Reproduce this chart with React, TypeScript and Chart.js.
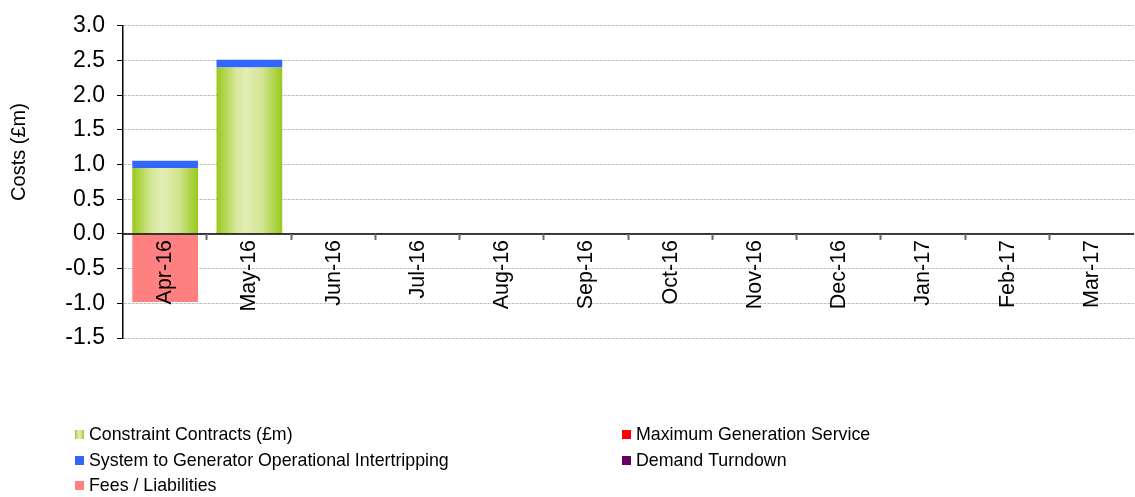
import React, { useEffect, useRef } from "react";
import { Chart, registerables } from "chart.js";

Chart.register(...registerables);

const categories = ["Apr-16", "May-16", "Jun-16", "Jul-16", "Aug-16", "Sep-16", "Oct-16", "Nov-16", "Dec-16", "Jan-17", "Feb-17", "Mar-17"];
const constraintContracts = [0.95, 2.4, 0, 0, 0, 0, 0, 0, 0, 0, 0, 0];
const maxGeneration = [0, 0, 0, 0, 0, 0, 0, 0, 0, 0, 0, 0];
const intertripping = [0.105, 0.11, 0, 0, 0, 0, 0, 0, 0, 0, 0, 0];
const demandTurndown = [0, 0, 0, 0, 0, 0, 0, 0, 0, 0, 0, 0];
const feesLiabilities = [-0.98, 0, 0, 0, 0, 0, 0, 0, 0, 0, 0, 0];
const seriesNames = [
  "Constraint Contracts (£m)",
  "Maximum Generation Service",
  "System to Generator Operational Intertripping",
  "Demand Turndown",
  "Fees / Liabilities",
];
const seriesColors = ["#9acb1a", "#ff0000", "#3366ff", "#660066", "#ff8080"];
const yTitle = "Costs (£m)";

const FONT = "'Liberation Sans', Arial, sans-serif";
const BAR_PCT = 0.78;

function greenGradient(ctx: CanvasRenderingContext2D, x0: number, x1: number) {
  const g = ctx.createLinearGradient(x0, 0, x1, 0);
  g.addColorStop(0, "#98c91a");
  g.addColorStop(0.3, "#d6e79c");
  g.addColorStop(0.45, "#e2edb4");
  g.addColorStop(0.7, "#d2e492");
  g.addColorStop(1, "#98c91a");
  return g;
}

const decorPlugin = {
  id: "decor",
  afterDatasetsDraw(chart: any) {
    const { ctx, chartArea, scales } = chart;
    const x = scales.x;
    const y = scales.y;
    const y0 = y.getPixelForValue(0);
    const n = categories.length;
    const cw = (chartArea.right - chartArea.left) / n;
    ctx.save();
    ctx.strokeStyle = "#000";
    ctx.lineWidth = 1.5;
    ctx.beginPath();
    ctx.moveTo(chartArea.left, y0);
    ctx.lineTo(chartArea.right, y0);
    ctx.stroke();
    ctx.strokeStyle = "#666";
    ctx.lineWidth = 2;
    for (let i = 1; i < n; i++) {
      const bx = Math.round(chartArea.left + cw * i) - 0.5;
      ctx.beginPath();
      ctx.moveTo(bx, y0);
      ctx.lineTo(bx, y0 + 6);
      ctx.stroke();
    }
    ctx.fillStyle = "#000";
    ctx.font = `21.5px ${FONT}`;
    ctx.textAlign = "right";
    ctx.textBaseline = "middle";
    categories.forEach((c, i) => {
      const cx = x.getPixelForValue(i);
      ctx.save();
      ctx.translate(cx, y0 + 6);
      ctx.rotate(-Math.PI / 2);
      ctx.fillText(c, 0, 0);
      ctx.restore();
    });
    ctx.restore();
  },
  afterDraw(chart: any) {
    const { ctx } = chart;
    ctx.save();
    ctx.fillStyle = "#000";
    ctx.font = `20px ${FONT}`;
    ctx.textAlign = "center";
    ctx.textBaseline = "middle";
    ctx.translate(19, 152);
    ctx.rotate(-Math.PI / 2);
    ctx.fillText(yTitle, 0, 0);
    ctx.restore();
    ctx.save();
    ctx.font = `17.8px ${FONT}`;
    ctx.textBaseline = "middle";
    ctx.textAlign = "left";
    const colX = [75, 622];
    const rowY = [435, 461, 486];
    seriesNames.forEach((name, i) => {
      const col = i % 2;
      const row = Math.floor(i / 2);
      const sx = colX[col];
      const sy = rowY[row];
      if (i === 0) {
        ctx.fillStyle = greenGradient(ctx, sx, sx + 9);
      } else {
        ctx.fillStyle = seriesColors[i];
      }
      ctx.fillRect(sx, sy - 5, 9, 9);
      ctx.fillStyle = "#000";
      ctx.fillText(name, sx + 14, sy);
    });
    ctx.restore();
  },
};

export default function App() {
  const ref = useRef<HTMLCanvasElement | null>(null);
  useEffect(() => {
    document.body.style.margin = "0";
    const canvas = ref.current!;
    const datasets = [constraintContracts, maxGeneration, intertripping, demandTurndown, feesLiabilities].map((d, i) => ({
      label: seriesNames[i],
      data: d,
      backgroundColor:
        i === 0
          ? (c: any) => {
              const chart = c.chart;
              const xs = chart.scales?.x;
              if (!chart.chartArea || !xs || c.dataIndex === undefined) return seriesColors[0];
              const cx = xs.getPixelForValue(c.dataIndex);
              const w = ((chart.chartArea.right - chart.chartArea.left) / categories.length) * BAR_PCT;
              return greenGradient(chart.ctx, cx - w / 2, cx + w / 2);
            }
          : seriesColors[i],
      borderWidth: 0,
      categoryPercentage: BAR_PCT,
      barPercentage: 1,
    }));
    const chart = new Chart(canvas, {
      type: "bar",
      data: { labels: categories, datasets },
      plugins: [decorPlugin],
      options: {
        animation: false,
        responsive: false,
        maintainAspectRatio: false,
        layout: { padding: { top: 21, bottom: 159, left: 0, right: 1 } },
        plugins: { legend: { display: false }, tooltip: { enabled: false } },
        scales: {
          x: {
            stacked: true,
            display: false,
            offset: true,
          },
          y: {
            stacked: true,
            min: -1.5,
            max: 3.0,
            afterFit: (s: any) => {
              s.width = 123;
            },
            ticks: {
              stepSize: 0.5,
              padding: 12,
              color: "#000",
              font: { family: FONT, size: 23 },
              callback: (v: any) => Number(v).toFixed(1),
            },
            grid: {
              color: "#c0c0c0",
              lineWidth: 1,
              tickLength: 6,
              tickColor: "#000",
              tickBorderDash: [],
            } as any,
            border: { display: true, color: "#000", width: 1.5, dash: [3, 1] } as any,
          },
        },
      } as any,
    });
    return () => chart.destroy();
  }, []);
  return (
    <div style={{ width: 1135, height: 497 }}>
      <canvas ref={ref} width={1135} height={497} style={{ display: "block" }} />
    </div>
  );
}
